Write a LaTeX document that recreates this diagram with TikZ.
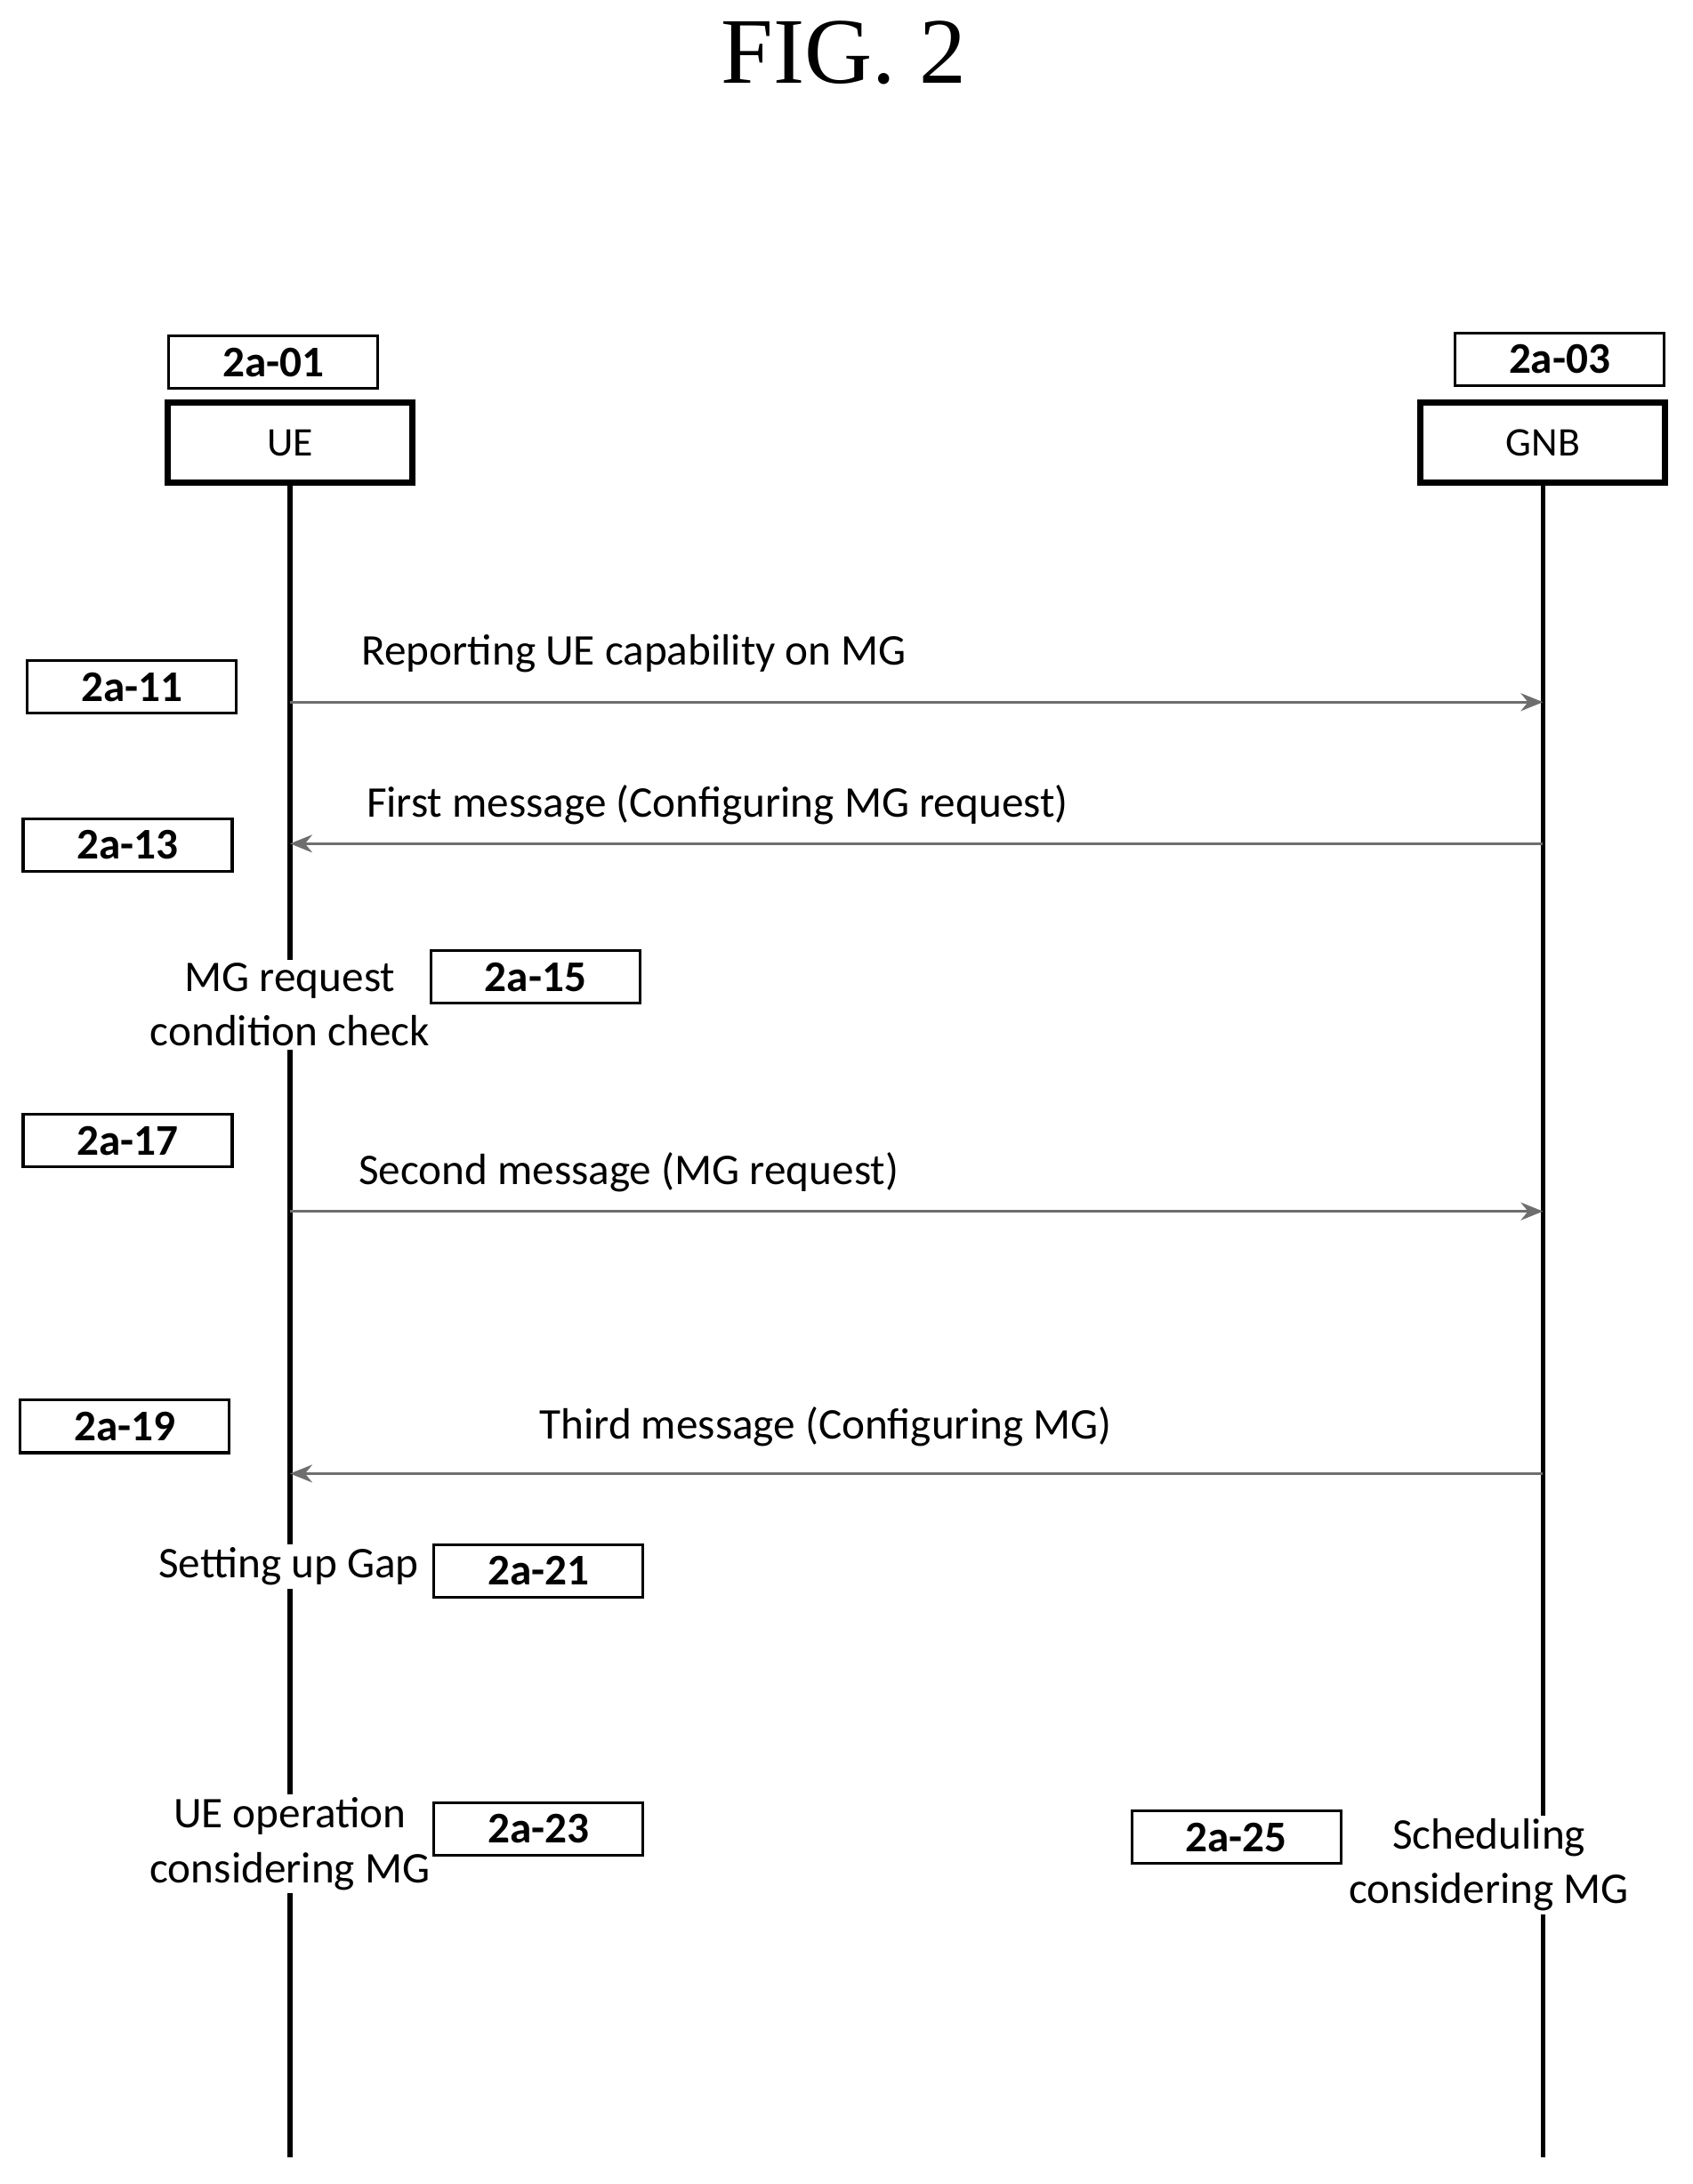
\documentclass[tikz,border=0pt]{standalone}
\usepackage{fontspec}
\setmainfont{Carlito}
\newfontfamily\titlefont{Liberation Serif}
\usetikzlibrary{arrows.meta, positioning, calc}
\definecolor{msgGray}{RGB}{110,110,110}

\begin{document}
\begin{tikzpicture}[
    x=0.0156cm, y=-0.0156cm,
    tag/.style={rectangle, draw, line width=0.9pt, minimum width=2.35cm, minimum height=0.59cm, inner sep=0pt, font=\fontsize{14}{16}\selectfont\bfseries},
    entity/.style={rectangle, draw, line width=2pt, minimum width=2.75cm, minimum height=0.9cm, inner sep=0pt, font=\fontsize{13}{15}\selectfont},
    action/.style={fill=white, align=center, inner sep=1pt, font=\fontsize{14}{17.5}\selectfont},
    msgtext/.style={font=\fontsize{14}{16}\selectfont},
    life/.style={line width=1.6pt},
    arrow/.style={-{Stealth[length=2.5mm, width=2mm]}, draw=msgGray, line width=0.8pt}
]
\useasboundingbox (0,0) rectangle (1220,1574);

\node[font=\titlefont\fontsize{30}{32}\selectfont] (title) at (608,38) {FIG. 2};

% entities
\node[entity] (ue) at (209,319) {UE};
\node[entity] (gnb) at (1112,319) {GNB};
\node[tag] (t01) at (197,261) {2a-01};
\node[tag] (t03) at (1124,259) {2a-03};

\coordinate (ueEnd) at (209,1555);
\coordinate (gnbEnd) at (1112,1555);
\draw[life] (ue.south) -- (ueEnd);
\draw[life] (gnb.south) -- (gnbEnd);

% messages
\coordinate (m1a) at (209,506); \coordinate (m1b) at (1112,506);
\coordinate (m2a) at (1112,608); \coordinate (m2b) at (209,608);
\coordinate (m3a) at (209,873); \coordinate (m3b) at (1112,873);
\coordinate (m4a) at (1112,1062); \coordinate (m4b) at (209,1062);
\draw[arrow] (m1a) -- (m1b);
\draw[arrow] (m2a) -- (m2b);
\draw[arrow] (m3a) -- (m3b);
\draw[arrow] (m4a) -- (m4b);

\node[msgtext] (l1) at (457,471) {Reporting UE capability on MG};
\node[msgtext] (l2) at (517,580) {First message (Configuring MG request)};
\node[msgtext] (l3) at (453,845) {Second message (MG request)};
\node[msgtext] (l4) at (595,1028) {Third message (Configuring MG)};

\node[tag] (t11) at (95,495) {2a-11};
\node[tag] (t13) at (92,609) {2a-13};
\node[tag] (t17) at (92,822) {2a-17};
\node[tag] (t19) at (90,1028) {2a-19};

% local steps
\node[action] (check) at (209,724) {MG request\\condition check};
\node[tag] (t15) at (386,704) {2a-15};
\node[action] (gap) at (208,1129) {Setting up Gap};
\node[tag] (t21) at (388,1132) {2a-21};
\node[action] (ueop) at (209,1329) {UE operation\\considering MG};
\node[tag] (t23) at (388,1318) {2a-23};
\node[action] (sched) at (1073,1344) {Scheduling\\considering MG};
\node[tag] (t25) at (891,1324) {2a-25};

\end{tikzpicture}
\end{document}
